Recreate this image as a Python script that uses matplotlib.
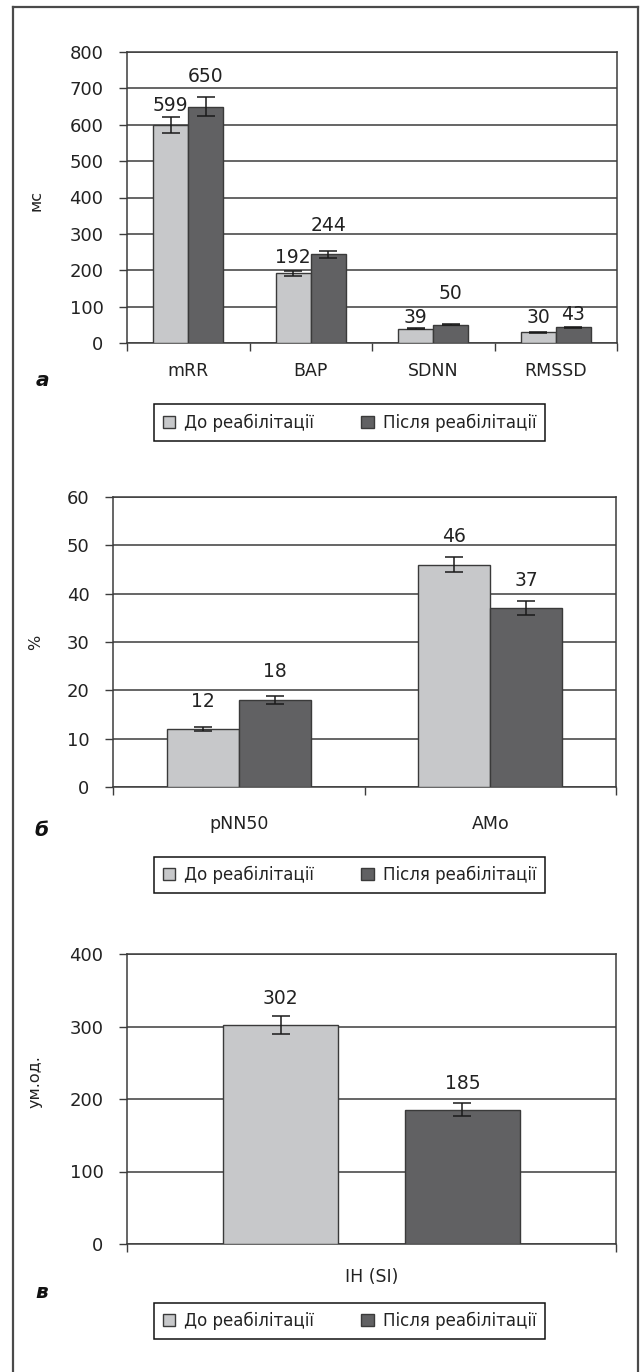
import matplotlib
matplotlib.use("Agg")
import numpy as np
import matplotlib.pyplot as plt
from matplotlib.patches import Patch
from matplotlib.lines import Line2D

plt.rcParams["font.family"] = ["DejaVu Sans"]

SERIES = ["До реабілітації", "Після реабілітації"]
LIGHT = "#c7c8ca"
DARK = "#616163"
EDGE = "#3a3a3a"
GRID = "#3c3c3c"

# panel а - time-domain indices, ms
cats_a = ["mRR", "BAP", "SDNN", "RMSSD"]
before_a = [599, 192, 39, 30]
after_a = [650, 244, 50, 43]
err_before_a = [22, 7, 1.5, 1.5]
err_after_a = [25, 9, 1.5, 2]
lbl_y_before_a = [654, 234, 71, 71]
lbl_y_after_a = [734, 324, 137, 77]

# panel б - percentages
cats_b = ["pNN50", "AMo"]
before_b = [12, 46]
after_b = [18, 37]
err_before_b = [0.5, 1.6]
err_after_b = [0.8, 1.5]
lbl_y_before_b = [17.6, 51.9]
lbl_y_after_b = [23.8, 42.8]

# panel в - stress index
cats_c = ["IH (SI)"]
before_c = [302]
after_c = [185]
err_before_c = [13]
err_after_c = [9]
lbl_y_before_c = [339]
lbl_y_after_c = [222]

W, H = 640, 1372
fig = plt.figure(figsize=(W / 100, H / 100), dpi=100)


def fx(px):
    return px / W


def fy(py):
    return 1 - py / H


def panel(rect, cats, before, after, eb, ea, ly_b, ly_a, ymax, ystep,
          ylabel, ylabel_y, letter, letter_y, xpad, legend_y,
          width=0.286, offset=0.143):
    left, top, right, bottom = rect
    ax = fig.add_axes([fx(left), fy(bottom), fx(right - left), (bottom - top) / H])
    x = np.arange(len(cats))
    ax.bar(x - offset, before, width, color=LIGHT, edgecolor=EDGE, linewidth=1, zorder=3)
    ax.bar(x + offset, after, width, color=DARK, edgecolor=EDGE, linewidth=1, zorder=3)
    ekw = dict(fmt="none", ecolor="#1a1a1a", elinewidth=1.1, capsize=6.5, capthick=1.1, zorder=4)
    ax.errorbar(x - offset, before, yerr=eb, **ekw)
    ax.errorbar(x + offset, after, yerr=ea, **ekw)
    for xi, v, yy in zip(x - offset, before, ly_b):
        ax.text(xi, yy, str(v), ha="center", va="center", fontsize=13.5, color="#222222")
    for xi, v, yy in zip(x + offset, after, ly_a):
        ax.text(xi, yy, str(v), ha="center", va="center", fontsize=13.5, color="#222222")

    ax.set_xlim(-0.5, len(cats) - 0.5)
    ax.set_ylim(0, ymax)
    ax.set_yticks(np.arange(0, ymax + ystep, ystep))
    ax.yaxis.grid(True, color=GRID, linewidth=1.1, zorder=0)
    ax.set_axisbelow(True)
    ax.tick_params(axis="y", direction="out", length=6, width=1, color=GRID,
                   pad=11, labelsize=13, labelcolor="#222222")

    ax.set_xticks(np.arange(len(cats) + 1) - 0.5)
    ax.set_xticklabels([])
    ax.set_xticks(x, minor=True)
    ax.set_xticklabels(cats, minor=True)
    ax.tick_params(axis="x", which="major", direction="out", length=6, width=1, color=GRID)
    ax.tick_params(axis="x", which="minor", length=0, pad=xpad, labelsize=12.5,
                   labelcolor="#222222")

    for s in ax.spines.values():
        s.set_color(GRID)
        s.set_linewidth(1.1)

    ax.set_ylabel(ylabel, fontsize=11.5, color="#222222")
    ax.yaxis.set_label_coords((43 - left) / (right - left), ylabel_y)

    fig.text(fx(42), fy(letter_y), letter, fontsize=14.5, fontweight="bold",
             fontstyle="italic", ha="center", va="center", color="#111111")

    handles = [Patch(facecolor=LIGHT, edgecolor=EDGE, linewidth=1),
               Patch(facecolor=DARK, edgecolor=EDGE, linewidth=1)]
    leg = fig.legend(handles, SERIES, loc="center", ncol=2,
                     bbox_to_anchor=(fx(349.5), fy(legend_y)),
                     bbox_transform=fig.transFigure, fontsize=12,
                     handlelength=0.75, handleheight=0.75, handletextpad=0.55,
                     columnspacing=2.8, borderpad=0.55, frameon=True,
                     fancybox=False, edgecolor="#111111", framealpha=1)
    leg.get_frame().set_linewidth(1.1)
    for t in leg.get_texts():
        t.set_color("#222222")
    return ax


panel((127, 52, 617, 343), cats_a, before_a, after_a, err_before_a, err_after_a,
      lbl_y_before_a, lbl_y_after_a, 800, 100, "мс", 0.49, "а", 380, 14, 422.5)

panel((113, 497, 616, 787), cats_b, before_b, after_b, err_before_b, err_after_b,
      lbl_y_before_b, lbl_y_after_b, 60, 10, "%", 0.50, "б", 830, 20, 875)

panel((127, 954, 616, 1244), cats_c, before_c, after_c, err_before_c, err_after_c,
      lbl_y_before_c, lbl_y_after_c, 400, 100, "ум.од.", 0.56, "в", 1292, 17, 1321,
      width=0.235, offset=0.186)

# outer frame, open at the bottom
frame = dict(color="#4a4a4a", linewidth=1.6, transform=fig.transFigure)
fig.add_artist(Line2D([fx(13), fx(13)], [fy(7), 0], **frame))
fig.add_artist(Line2D([fx(638), fx(638)], [fy(7), 0], **frame))
fig.add_artist(Line2D([fx(13), fx(638)], [fy(7), fy(7)], **frame))

fig.savefig("out.png", dpi=100, facecolor="white")
